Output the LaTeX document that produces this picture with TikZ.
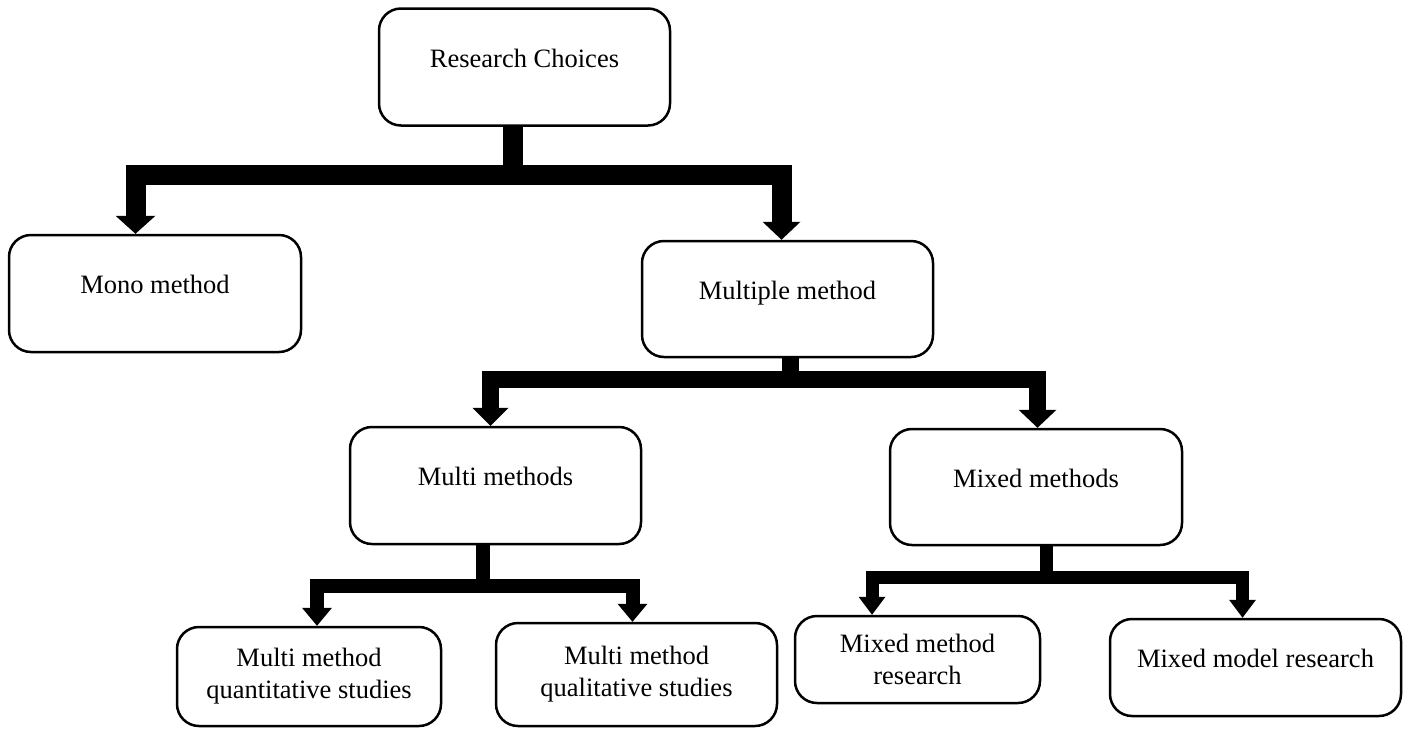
\documentclass[tikz,border=0pt]{standalone}
\usepackage{fontspec}
\setmainfont{Liberation Serif}
\usetikzlibrary{arrows.meta}
\begin{document}
\begin{tikzpicture}[x=1pt,y=-1pt,line join=miter,
  box/.style={draw,line width=2.5pt,rounded corners=22pt,align=center,inner sep=4pt,
    font=\fontsize{26.5}{32}\selectfont},
  oneline/.style={text height=12pt,text depth=12pt},
  branch/.style 2 args={line width=#1,-{Triangle[width=#2,length=18pt,line width=0pt]}}]
\useasboundingbox (0,0) rectangle (1408,729);
\node[box,oneline,minimum width=291,minimum height=117] (rc) at (524.5,67) {Research Choices};
\node[box,oneline,minimum width=292,minimum height=117] (mono) at (155,293.5) {Mono method};
\node[box,oneline,minimum width=291,minimum height=116] (mult) at (787.5,299) {Multiple method};
\node[box,oneline,minimum width=291,minimum height=117] (mm) at (495.5,485.5) {Multi methods};
\node[box,oneline,minimum width=292,minimum height=116] (mx) at (1036,487) {Mixed methods};
\node[box,minimum width=264,minimum height=99] (quant) at (309,676.5) {Multi method\\quantitative studies};
\node[box,minimum width=281,minimum height=103] (qual) at (636.5,674.5) {Multi method\\qualitative studies};
\node[box,minimum width=245,minimum height=87] (mmr) at (917.5,659.5) {Mixed method\\research};
\node[box,oneline,minimum width=291,minimum height=97] (mmod) at (1255.5,667.5) {Mixed model research};

\draw[branch={20pt}{40pt}] ([xshift=-11.5pt]rc.south) -- ++(0,48) -| ([xshift=-19.5pt]mono.north);
\draw[branch={20pt}{38pt}] ([xshift=-11.5pt]rc.south) -- ++(0,48) -| ([xshift=-6pt]mult.north);
\draw[branch={17pt}{36pt}] ([xshift=2.5pt]mult.south) -- ++(0,21) -| ([xshift=-5pt]mm.north);
\draw[branch={17pt}{38pt}] ([xshift=2.5pt]mult.south) -- ++(0,21) -| ([xshift=1.5pt]mx.north);
\draw[branch={14pt}{30pt}] ([xshift=-12.5pt]mm.south) -- ++(0,41) -| ([xshift=8pt]quant.north);
\draw[branch={14pt}{30pt}] ([xshift=-12.5pt]mm.south) -- ++(0,41) -| ([xshift=-4pt]qual.north);
\draw[branch={13pt}{27pt}] ([xshift=10pt]mx.south) -- ++(0,31) -| ([xshift=-45.5pt]mmr.north);
\draw[branch={13pt}{27pt}] ([xshift=10pt]mx.south) -- ++(0,31) -| ([xshift=-13pt]mmod.north);
\end{tikzpicture}
\end{document}
